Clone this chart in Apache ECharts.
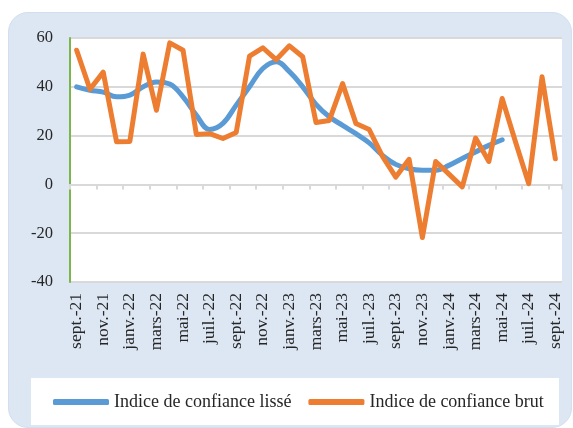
<!DOCTYPE html>
<html>
<head>
<meta charset="utf-8">
<script src="https://cdn.jsdelivr.net/npm/echarts@6/dist/echarts.min.js"></script>
<style>
  html, body { margin: 0; padding: 0; background: #fff; }
  #panel { position: absolute; left: 8px; top: 12px; width: 562px; height: 414px;
           background: #dde7f3; border: 1px solid #d2dfee; border-radius: 20px; }
  #legendBox { position: absolute; left: 31px; top: 378px; width: 528px; height: 47px; background: #fff; }
  #chart { position: absolute; left: 0; top: 0; width: 573px; height: 428px; }
</style>
</head>
<body>
<div id="panel"></div>
<div id="legendBox"></div>
<div id="chart"></div>
<script>
// mois de sept.-21 à sept.-24
const months = [
  'sept.-21', 'oct.-21', 'nov.-21', 'déc.-21',
  'janv.-22', 'févr.-22', 'mars-22', 'avr.-22', 'mai-22', 'juin-22', 'juil.-22', 'août-22',
  'sept.-22', 'oct.-22', 'nov.-22', 'déc.-22',
  'janv.-23', 'févr.-23', 'mars-23', 'avr.-23', 'mai-23', 'juin-23', 'juil.-23', 'août-23',
  'sept.-23', 'oct.-23', 'nov.-23', 'déc.-23',
  'janv.-24', 'févr.-24', 'mars-24', 'avr.-24', 'mai-24', 'juin-24', 'juil.-24', 'août-24',
  'sept.-24'
]
const indiceBrut = [
  55, 39, 46, 17.5, 17.6, 53.4, 30.4, 58, 55, 20.5, 20.8, 18.8,
  21.3, 52.6, 56, 51.1, 56.8, 52.3, 25.4, 26.2, 41.3, 25, 22.5, 11.5,
  3, 10.3, -21.8, 9.4, 4.2, -1, 19, 9.4, 35.2, 17.5, 0.3, 44.1,
  10.5
]
const indiceLisse = [
  40, 38.6, 37.8, 35.9, 36.6, 40, 42, 41.1, 35.9, 28.4, 22.5, 25,
  32.5, 40, 47.5, 50.3, 46.2, 40, 32.8, 27.7, 24.2, 20.8, 17, 11.9,
  8.2, 6.4, 5.8, 5.8, 7.8, 10.6, 13.3, 16, 18.3
]
const yTicks = { min: -40, max: 60, step: 20 }

const font = 'Liberation Serif'
const myChart = echarts.init(document.getElementById('chart'))
const option = {
  backgroundColor: 'transparent',
  animation: false,
  grid: {
    left: 70, right: 11, top: 38, bottom: 146,
    show: true, backgroundColor: '#fff', borderWidth: 0
  },
  legend: {
    left: 53, top: 393, padding: 0,
    icon: 'roundRect', itemWidth: 56, itemHeight: 6, itemGap: 17,
    textStyle: { fontFamily: font, fontSize: 18, color: '#262626' },
    data: ['Indice de confiance lissé', 'Indice de confiance brut']
  },
  xAxis: [
    {
      type: 'category',
      data: months,
      axisLine: { onZero: true, lineStyle: { color: '#d9d9d9', width: 2 } },
      axisTick: { show: true, interval: 1, length: 5, lineStyle: { color: '#d9d9d9', width: 2 } },
      axisLabel: { show: false }
    },
    {
      type: 'category',
      data: months,
      position: 'bottom',
      axisLine: { show: false, onZero: false },
      axisTick: { show: false },
      axisLabel: {
        interval: 1, rotate: 90, margin: 11,
        fontFamily: font, fontSize: 17.5, color: '#262626'
      }
    }
  ],
  yAxis: {
    type: 'value',
    min: yTicks.min, max: yTicks.max, interval: yTicks.step,
    axisLine: { show: true, lineStyle: { color: '#7ab648', width: 2 } },
    axisTick: { show: false },
    axisLabel: { margin: 17, fontFamily: font, fontSize: 16.5, color: '#262626' },
    splitLine: { lineStyle: { color: '#d9d9d9', width: 2 } }
  },
  series: [
    {
      name: 'Indice de confiance lissé',
      type: 'line',
      data: indiceLisse,
      smooth: 0.4,
      showSymbol: false,
      color: '#5b9bd5',
      lineStyle: { width: 5, cap: 'round' },
      z: 2
    },
    {
      name: 'Indice de confiance brut',
      type: 'line',
      data: indiceBrut,
      showSymbol: false,
      color: '#ed7d31',
      lineStyle: { width: 5, join: 'round', cap: 'round' },
      z: 3
    }
  ]
}
myChart.setOption(option)
</script>
</body>
</html>
